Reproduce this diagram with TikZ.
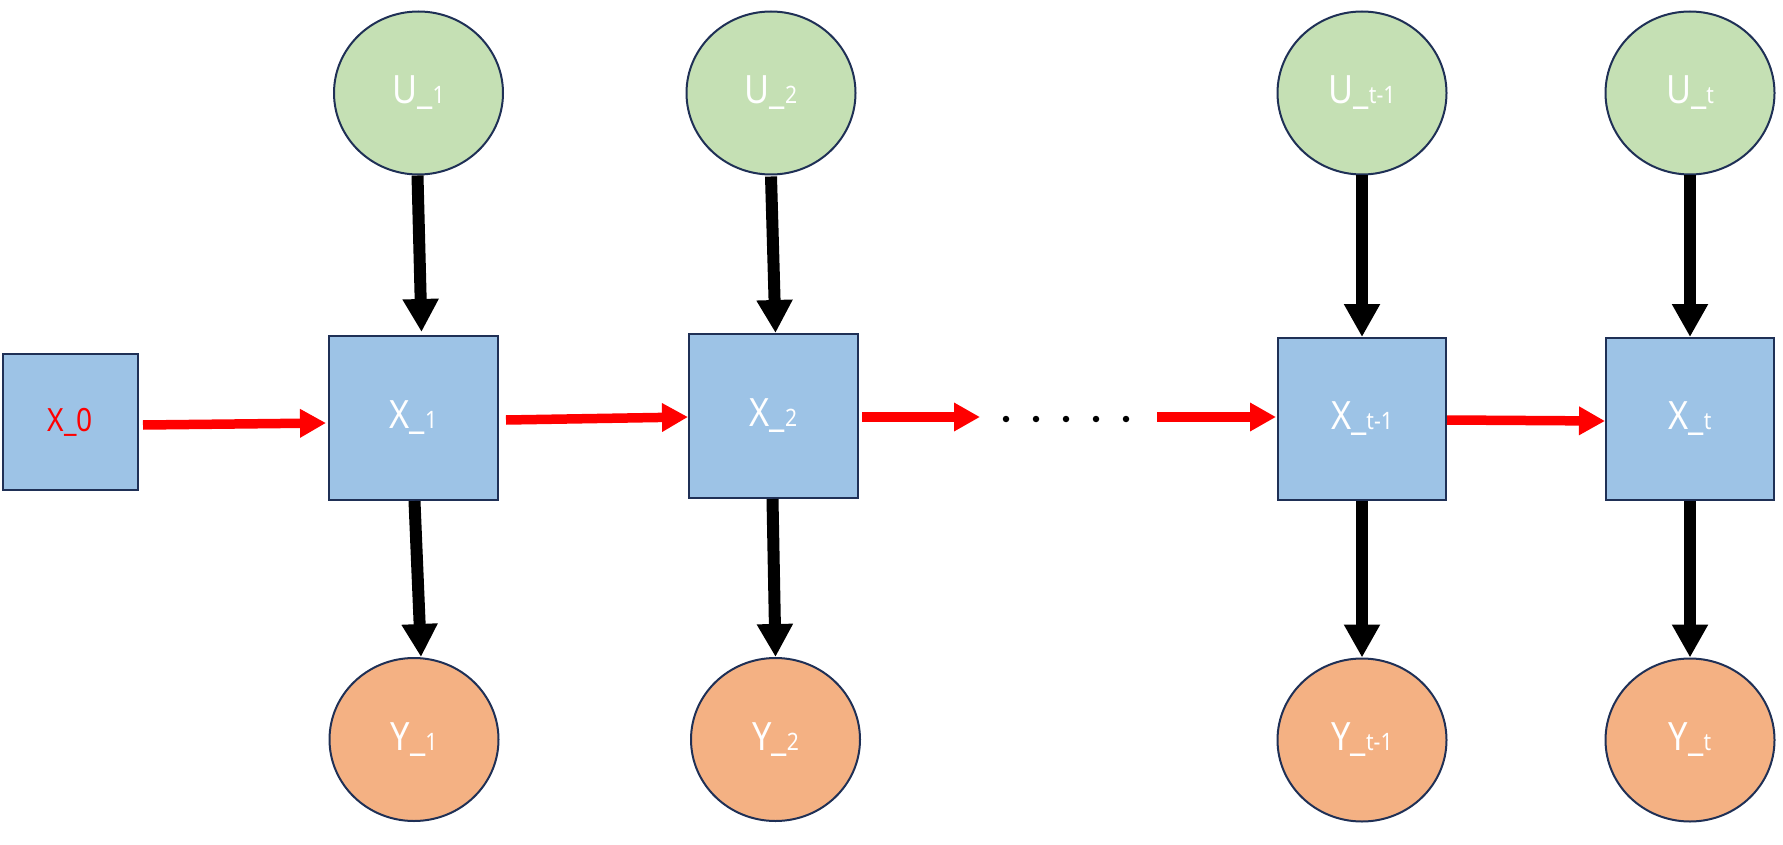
\documentclass[tikz,border=0pt]{standalone}
\usepackage{fontspec}
\newfontfamily\lblfont[FakeStretch=0.88]{Noto Sans}
\usetikzlibrary{arrows.meta,shapes.geometric,calc}
\definecolor{ugreen}{HTML}{C5E0B4}
\definecolor{xblue}{HTML}{9DC3E6}
\definecolor{yorange}{HTML}{F4B183}
\definecolor{edgeblue}{HTML}{1F3056}
\newcommand{\lbl}[2]{{\fontsize{39}{42}\selectfont #1\_}{\fontsize{24}{26}\selectfont #2}}
\tikzset{
  circnode/.style={ellipse, draw=edgeblue, line width=2pt, minimum width=169pt, minimum height=163pt, inner sep=0pt, text=white, font=\lblfont},
  unode/.style={circnode, fill=ugreen},
  ynode/.style={circnode, fill=yorange},
  xbox/.style={rectangle, draw=edgeblue, line width=2pt, fill=xblue, inner sep=0pt, text=white, font=\lblfont, minimum width=168pt, minimum height=163pt},
  blkarrow/.style={line width=12pt, black, -{Triangle[length=33pt,width=34pt]}},
  redarrow/.style={line width=9.5pt, red, -{Triangle[length=26pt,width=27pt]}},
  dotnode/.style={circle, fill=black, inner sep=0pt, minimum size=6.5pt}
}
\begin{document}
\begin{tikzpicture}[x=1pt,y=-1pt]
\useasboundingbox (0,0) rectangle (1783,845);
% U nodes
\node[unode] (U1) at (418.5,93) {\lbl{U}{1}};
\node[unode] (U2) at (771,93) {\lbl{U}{2}};
\node[unode] (Ut1) at (1362,93) {\lbl{U}{t-1}};
\node[unode] (Ut) at (1690,93) {\lbl{U}{t}};
% X nodes
\node[xbox, minimum width=135pt, minimum height=136pt, text=red] (X0) at (70.5,422) {\fontsize{32}{34}\selectfont X\_0};
\node[xbox, minimum width=169pt, minimum height=164pt] (X1) at (413.5,418) {\lbl{X}{1}};
\node[xbox, minimum width=169pt, minimum height=164pt] (X2) at (773.5,416) {\lbl{X}{2}};
\node[xbox, minimum height=162pt] (Xt1) at (1362,419) {\lbl{X}{t-1}};
\node[xbox, minimum height=162pt] (Xt) at (1690,419) {\lbl{X}{t}};
% Y nodes
\node[ynode] (Y1) at (414,739.5) {\lbl{Y}{1}};
\node[ynode] (Y2) at (775.5,739.5) {\lbl{Y}{2}};
\node[ynode] (Yt1) at (1362,740) {\lbl{Y}{t-1}};
\node[ynode] (Yt) at (1690,740) {\lbl{Y}{t}};
% dots
\coordinate (gapL) at (980,417);
\coordinate (gapR) at (1157,417);
\foreach \i/\x in {1/1006,2/1036,3/1066,4/1096,5/1126}
  \node[dotnode] (dot\i) at (\x,419) {};
% black arrows
\draw[blkarrow] ($(U1.south)+(-1,0)$) -- ($(X1.north)+(8,-3)$);
\draw[blkarrow] ($(X1.south)+(1,0)$) -- ($(Y1.north)+(7,0)$);
\draw[blkarrow] ($(U2.south)+(0,1)$) -- ($(X2.north)+(2,0)$);
\draw[blkarrow] ($(X2.south)+(-1,0)$) -- ($(Y2.north)+(0,0)$);
\draw[blkarrow] (Ut1.south) -- (Xt1.north);
\draw[blkarrow] (Xt1.south) -- (Yt1.north);
\draw[blkarrow] (Ut.south) -- (Xt.north);
\draw[blkarrow] (Xt.south) -- (Yt.north);
% red arrows
\draw[redarrow] ($(X0.east)+(4,3)$) -- ($(X1.west)+(-2,5)$);
\draw[redarrow] ($(X1.east)+(7,2)$) -- ($(X2.west)+(0,1)$);
\draw[redarrow] ($(X2.east)+(3,1)$) -- (gapL);
\draw[redarrow] (gapR) -- ($(Xt1.west)+(-1,-2)$);
\draw[redarrow] ($(Xt1.east)+(0,1)$) -- ($(Xt.west)+(0,2)$);
\end{tikzpicture}
\end{document}
